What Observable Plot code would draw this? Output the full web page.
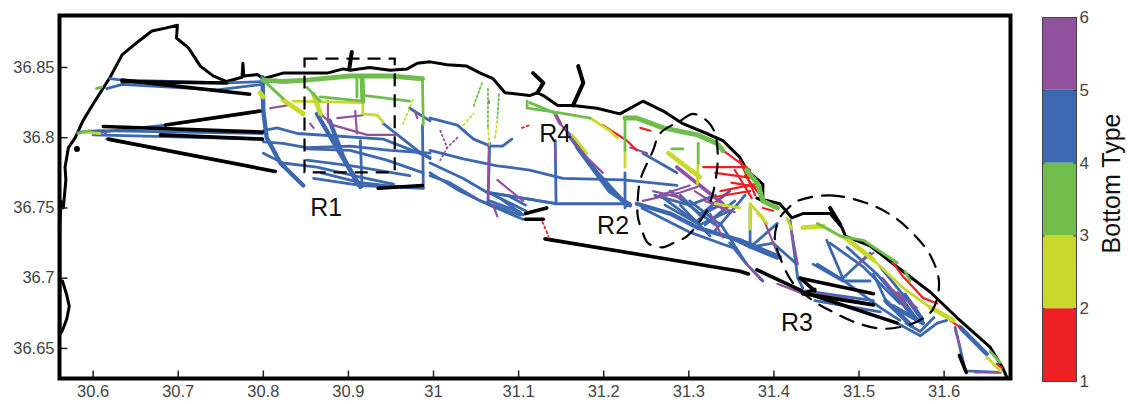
<!DOCTYPE html>
<html><head><meta charset="utf-8">
<script src="https://cdn.jsdelivr.net/npm/d3@7"></script>
<script src="https://cdn.jsdelivr.net/npm/@observablehq/plot@0.6"></script>
<style>
html,body{margin:0;padding:0;background:#fff;width:1128px;height:404px;overflow:hidden}
#wrap{position:relative;width:1128px;height:404px}
#wrap svg{position:absolute;top:0;background:transparent}
</style></head><body><div id="wrap"></div>
<script>
const xTicks=[30.6,30.7,30.8,30.9,31,31.1,31.2,31.3,31.4,31.5,31.6];
const yTicks=[36.65,36.7,36.75,36.8,36.85];
const xDomain=[30.5605,31.678];
const yDomain=[36.6286,36.887];
const bottomTypes=[1,2,3,4,5,6];
const typeColors=["#ee2024","#c8d92b","#6fbe4b","#3b68b0","#92519f"];

const coast=[[30.561,36.690],[30.561,36.698],[30.564,36.698],[30.569,36.688],[30.572,36.680],[30.569,36.671],[30.564,36.663],[30.561,36.660],[30.561,36.700],[30.561,36.735],[30.562,36.755],[30.565,36.750],[30.568,36.770],[30.567,36.779],[30.571,36.793],[30.579,36.800],[30.588,36.812],[30.600,36.824],[30.620,36.843],[30.634,36.859],[30.652,36.868],[30.669,36.876],[30.685,36.878],[30.699,36.880],[30.698,36.871],[30.712,36.864],[30.726,36.851],[30.741,36.844],[30.757,36.840],[30.775,36.843],[30.776,36.853],[30.777,36.844],[30.793,36.845],[30.800,36.842],[30.823,36.846],[30.851,36.846],[30.875,36.846],[30.894,36.849],[30.902,36.848],[30.925,36.850],[30.949,36.848],[30.969,36.849],[30.981,36.853],[30.996,36.854],[31.016,36.852],[31.039,36.851],[31.055,36.846],[31.070,36.842],[31.084,36.832],[31.113,36.830],[31.122,36.832],[31.129,36.830],[31.146,36.823],[31.164,36.823],[31.192,36.821],[31.219,36.817],[31.246,36.826],[31.270,36.819],[31.293,36.810],[31.321,36.803],[31.340,36.798],[31.360,36.786],[31.368,36.777],[31.387,36.767],[31.387,36.755],[31.380,36.757],[31.407,36.753],[31.421,36.743],[31.434,36.746],[31.454,36.746],[31.466,36.746],[31.480,36.736],[31.484,36.730],[31.513,36.723],[31.545,36.708],[31.584,36.690],[31.615,36.672],[31.654,36.651],[31.669,36.636],[31.674,36.629]];
const coastHooks=[[[31.122,36.832],[31.129,36.839],[31.117,36.846]],[[31.164,36.823],[31.176,36.839],[31.170,36.851]],[[30.904,36.861],[30.901,36.849]],[[31.466,36.750],[31.478,36.738]]];
const spot=[[30.581,36.792]];
const transitLines=[
[[30.634,36.841],[30.784,36.831]],[[30.634,36.840],[30.757,36.839]],[[30.796,36.819],[30.685,36.809]],[[30.612,36.808],[30.799,36.804]],[[30.679,36.802],[30.799,36.799]],[[30.618,36.799],[30.814,36.776]],[[30.935,36.764],[30.987,36.766]],[[31.108,36.746],[31.133,36.750]],[[31.108,36.742],[31.129,36.742]],[[31.131,36.728],[31.360,36.705],[31.370,36.703]],[[31.380,36.706],[31.433,36.691]],[[31.431,36.700],[31.517,36.689]],[[31.434,36.689],[31.517,36.681]],[[31.445,36.688],[31.545,36.668]],[[31.431,36.700],[31.448,36.691]],[[31.434,36.689],[31.448,36.692]],[[31.618,36.645],[31.626,36.633]]];

const blueThin=[
[[30.620,36.842],[30.634,36.841],[30.757,36.839],[30.799,36.840]],
[[30.616,36.835],[30.634,36.838],[30.746,36.834],[30.799,36.838]],
[[30.582,36.804],[30.608,36.805],[30.799,36.803]],
[[30.600,36.802],[30.799,36.799]],
[[30.608,36.804],[30.685,36.809],[30.799,36.819]],
[[30.616,36.799],[30.814,36.776]],
[[30.800,36.805],[30.816,36.807],[30.840,36.803],[30.941,36.799],[30.996,36.786]],
[[30.800,36.797],[30.823,36.796],[30.851,36.793],[30.902,36.794],[30.949,36.791],[30.996,36.789]],
[[30.851,36.792],[30.902,36.791],[30.945,36.784],[30.988,36.775]],
[[30.800,36.789],[30.823,36.782],[30.863,36.779],[30.914,36.772],[30.953,36.767]],
[[30.859,36.771],[30.914,36.766],[30.988,36.764]],
[[30.868,36.775],[30.914,36.768],[30.960,36.765]],
[[30.914,36.798],[30.916,36.765]],
[[30.941,36.810],[30.981,36.791],[30.996,36.785]],
[[30.987,36.809],[30.988,36.764]],
[[30.972,36.821],[30.996,36.812]],
[[30.851,36.784],[30.904,36.780],[30.972,36.773]],
[[30.996,36.814],[31.028,36.809],[31.047,36.799],[31.067,36.794],[31.081,36.794],[31.092,36.799]],
[[30.996,36.791],[31.035,36.785],[31.075,36.780],[31.113,36.777],[31.152,36.771],[31.223,36.770],[31.286,36.766]],
[[30.996,36.782],[31.035,36.771],[31.063,36.761],[31.105,36.757],[31.145,36.753],[31.231,36.753]],
[[30.996,36.775],[31.031,36.762],[31.066,36.752],[31.105,36.742]],
[[30.996,36.773],[31.019,36.768],[31.055,36.755],[31.102,36.745]],
[[31.066,36.796],[31.064,36.753]],
[[31.143,36.798],[31.144,36.753]],
[[31.225,36.775],[31.225,36.750]],
[[31.246,36.789],[31.286,36.775]],
[[31.310,36.741],[31.328,36.750]],
[[31.290,36.759],[31.313,36.745],[31.337,36.752]],
[[31.272,36.752],[31.313,36.738],[31.348,36.748]],
[[31.260,36.759],[31.301,36.752],[31.331,36.759]],
[[31.266,36.759],[31.313,36.738]],[[31.278,36.762],[31.331,36.738]],[[31.290,36.752],[31.325,36.730]],[[31.301,36.755],[31.337,36.738]],
[[31.313,36.745],[31.348,36.762]],[[31.319,36.738],[31.354,36.755]],[[31.331,36.734],[31.366,36.759]],
[[31.245,36.750],[31.300,36.733],[31.350,36.722]],
[[31.337,36.739],[31.368,36.710]],
[[31.372,36.750],[31.372,36.722],[31.404,36.714]],
[[31.372,36.722],[31.404,36.739]],
[[31.066,36.755],[31.102,36.747]],[[31.068,36.760],[31.108,36.748]],[[31.078,36.757],[31.105,36.745]],[[31.090,36.758],[31.108,36.752]],[[31.066,36.761],[31.143,36.753]],
[[31.348,36.729],[31.372,36.722],[31.399,36.725],[31.427,36.710]],
[[31.348,36.725],[31.368,36.710],[31.387,36.698]],
[[31.419,36.741],[31.428,36.700],[31.434,36.693]],
[[31.446,36.710],[31.481,36.698],[31.513,36.698]],
[[31.462,36.727],[31.481,36.700],[31.513,36.718]],
[[31.466,36.725],[31.505,36.708],[31.548,36.682]],
[[31.451,36.710],[31.478,36.700],[31.525,36.679],[31.548,36.670]],
[[31.517,36.703],[31.533,36.682],[31.552,36.675]],
[[31.525,36.708],[31.560,36.682],[31.575,36.670]],
[[31.486,36.722],[31.521,36.703],[31.560,36.675]],
[[31.545,36.668],[31.572,36.659],[31.592,36.668],[31.603,36.670]],
[[31.555,36.668],[31.572,36.662],[31.588,36.672]],
[[31.437,36.691],[31.517,36.684]],
[[31.448,36.684],[31.525,36.676]],
[[31.613,36.665],[31.625,36.634],[31.666,36.633]]];
const blueThick=[
[[30.799,36.843],[30.800,36.819],[30.804,36.800],[30.820,36.782],[30.847,36.766]],
[[30.863,36.817],[30.890,36.789],[30.914,36.765]],
[[30.878,36.812],[30.894,36.786],[30.911,36.767]],
[[31.158,36.803],[31.192,36.775],[31.227,36.752]],
[[31.169,36.793],[31.207,36.762],[31.231,36.752]],
[[31.239,36.753],[31.278,36.746],[31.310,36.736],[31.360,36.727],[31.407,36.715]],
[[31.545,36.689],[31.568,36.670]],[[31.531,36.684],[31.562,36.666]],[[31.554,36.688],[31.574,36.671]],[[31.540,36.680],[31.575,36.668]],
[[31.619,36.665],[31.650,36.646]]];
const purpleThin=[
[[30.808,36.821],[30.828,36.823]],
[[30.867,36.817],[30.882,36.809],[30.922,36.802],[30.957,36.802]],
[[30.876,36.826],[30.876,36.811]],[[30.855,36.810],[30.859,36.807]],[[30.908,36.819],[30.910,36.803]],[[30.887,36.814],[30.917,36.816]],[[30.978,36.819],[30.981,36.814]],
[[31.065,36.794],[31.064,36.757]],[[31.075,36.770],[31.105,36.755]],[[31.070,36.752],[31.075,36.744]],
[[31.149,36.810],[31.180,36.786],[31.199,36.775]],
[[31.143,36.793],[31.143,36.782]],[[31.231,36.793],[31.251,36.789]],
[[31.246,36.755],[31.290,36.761],[31.310,36.765]],[[31.258,36.762],[31.293,36.757]],
[[31.266,36.759],[31.301,36.766]],[[31.307,36.762],[31.343,36.748]],[[31.319,36.755],[31.354,36.747]],
[[31.325,36.746],[31.340,36.729]],[[31.387,36.743],[31.404,36.718]],[[31.419,36.739],[31.428,36.710]],
[[31.368,36.710],[31.386,36.698]],[[31.404,36.696],[31.434,36.689]],[[31.451,36.689],[31.513,36.682]],
[[31.517,36.718],[31.498,36.710]],[[31.536,36.693],[31.568,36.679]],[[31.528,36.700],[31.555,36.680]],[[31.613,36.663],[31.619,36.651]],[[31.636,36.633],[31.666,36.633]]];
const purpleThick=[[[31.286,36.779],[31.313,36.766],[31.340,36.753]],[[31.143,36.817],[31.149,36.810]]];
const purpleDotted=[[[30.608,36.803],[30.618,36.803]],[[31.008,36.805],[31.016,36.793],[31.008,36.784]],[[31.028,36.800],[31.016,36.793]]];
const redThin=[
[[31.199,36.809],[31.227,36.798],[31.239,36.791]],[[31.243,36.807],[31.255,36.805]],
[[31.340,36.791],[31.372,36.777]],[[31.317,36.779],[31.368,36.779]],[[31.331,36.775],[31.378,36.771]],
[[31.337,36.762],[31.378,36.767]],[[31.331,36.758],[31.372,36.762]],[[31.360,36.784],[31.378,36.759]],
[[31.366,36.773],[31.384,36.759]],[[31.354,36.777],[31.374,36.757]],[[31.350,36.768],[31.380,36.765]],
[[31.540,36.711],[31.552,36.701],[31.575,36.686],[31.592,36.682]],
[[31.607,36.670],[31.619,36.665]],[[31.662,36.639],[31.668,36.636]],[[31.387,36.750],[31.399,36.748]]];
const redDotted=[[[31.104,36.807],[31.113,36.809]],[[31.065,36.826],[31.065,36.823]],[[31.128,36.740],[31.135,36.730]]];
const yellowThin=[
[[30.835,36.826],[30.917,36.825]],
[[30.917,36.826],[30.917,36.817],[30.934,36.816],[30.941,36.811]],
[[30.588,36.804],[30.608,36.803]],
[[31.184,36.814],[31.207,36.805],[31.216,36.800]],
[[31.163,36.802],[31.180,36.789]],[[31.311,36.782],[31.310,36.767]],[[31.225,36.791],[31.225,36.779]],
[[31.372,36.753],[31.387,36.743]],[[31.331,36.753],[31.360,36.750]],[[31.372,36.753],[31.372,36.735]],
[[31.434,36.736],[31.458,36.737],[31.481,36.729],[31.517,36.713],[31.552,36.693],[31.584,36.679]],
[[31.650,36.644],[31.666,36.634]],[[31.381,36.746],[31.392,36.739]],[[31.415,36.743],[31.421,36.735]]];
const yellowThick=[
[[30.823,36.827],[30.847,36.817]],[[30.796,36.832],[30.800,36.829]],[[30.859,36.831],[30.867,36.817]],
[[31.276,36.789],[31.313,36.772]],[[31.584,36.679],[31.611,36.670]],[[31.488,36.727],[31.517,36.713]],[[31.434,36.736],[31.458,36.737]]];
const yellowDotted=[[[30.976,36.827],[30.964,36.810]],[[31.035,36.809],[31.047,36.817]],[[31.064,36.807],[31.066,36.793]],[[31.075,36.812],[31.072,36.798]]];
const greenThin=[
[[30.851,36.836],[30.867,36.826]],[[30.800,36.841],[30.823,36.828]],[[30.867,36.829],[30.917,36.826]],[[30.920,36.830],[30.972,36.826]],[[30.910,36.843],[30.910,36.829]],[[30.987,36.842],[30.988,36.809]],
[[30.604,36.835],[30.610,36.836]],[[30.582,36.803],[30.596,36.805]],
[[31.110,36.826],[31.110,36.821],[31.145,36.818],[31.184,36.814]],[[31.113,36.825],[31.145,36.817]],
[[31.225,36.812],[31.225,36.791]],[[31.311,36.796],[31.311,36.782]],[[31.280,36.792],[31.293,36.792]],
[[31.451,36.739],[31.478,36.730],[31.505,36.727],[31.545,36.711]],[[31.554,36.705],[31.560,36.698]],[[31.654,36.648],[31.666,36.640]]];
const greenThick=[
[[30.800,36.841],[30.823,36.840],[30.851,36.841],[30.902,36.844],[30.949,36.844],[30.987,36.842]],
[[30.916,36.843],[30.917,36.826]],
[[31.225,36.814],[31.239,36.814],[31.270,36.807],[31.310,36.802],[31.333,36.796],[31.340,36.791]],
[[31.368,36.777],[31.381,36.767],[31.387,36.755],[31.404,36.750]]];
const greenDotted=[[[31.057,36.839],[31.047,36.822]],[[31.064,36.835],[31.064,36.807]],[[31.077,36.831],[31.075,36.814]]];

const boxR1={lon:[30.849,30.955],lat:[36.775,36.856]};
const outlineR2=[[31.323,36.811],[31.305,36.817],[31.290,36.812],[31.266,36.803],[31.258,36.791],[31.243,36.770],[31.240,36.756],[31.240,36.744],[31.245,36.734],[31.252,36.725],[31.269,36.722],[31.282,36.725],[31.298,36.730],[31.310,36.738],[31.321,36.748],[31.329,36.762],[31.334,36.784],[31.333,36.796],[31.331,36.803]];
const outlineR3=[[31.428,36.755],[31.466,36.759],[31.511,36.753],[31.540,36.744],[31.563,36.732],[31.584,36.716],[31.594,36.697],[31.587,36.678],[31.574,36.671],[31.560,36.667],[31.528,36.664],[31.498,36.668],[31.466,36.677],[31.446,36.684],[31.423,36.696],[31.407,36.715],[31.401,36.729],[31.407,36.743],[31.417,36.750]];
const regionLabels=["R1","R2","R3","R4"];
const regionLon=[30.874,31.211,31.427,31.143];
const regionLat=[36.750,36.737,36.668,36.803];

const rows=t=>t.flatMap((p,i)=>p.map(([x,y])=>({x,y,id:i})));
const track=(t,color,w,dash)=>Plot.line(rows(t),{x:"x",y:"y",z:"id",stroke:color,strokeWidth:w,strokeDasharray:dash,strokeLinecap:"round",strokeLinejoin:"round"});
const [RED,YEL,GRN,BLU,PUR]=typeColors;
const FONT="'Liberation Sans',Arial,sans-serif";
const tickLenX=0.0057, tickLenY=0.0094;

const chart=Plot.plot({
  width:1128,height:404,marginLeft:59,marginRight:118,marginTop:15,marginBottom:26,
  style:{fontFamily:FONT,background:"transparent",overflow:"visible"},
  x:{domain:xDomain},y:{domain:yDomain},
  marks:[
    Plot.line(coast,{x:d=>d[0],y:d=>d[1],stroke:"#000",strokeWidth:3,strokeLinejoin:"round"}),
    track(blueThin,BLU,2.8),track(blueThick,BLU,4.4),
    track(purpleThin,PUR,2.2),track(purpleThick,PUR,3.6),track(purpleDotted,PUR,1.8,"1.5 3"),
    track(redThin,RED,2.2),track(redDotted,RED,1.8,"2 3"),
    track(yellowThin,YEL,2.8),track(yellowThick,YEL,4.8),track(yellowDotted,YEL,1.8,"2 3"),
    track(greenThin,GRN,2.8),track(greenThick,GRN,5),track(greenDotted,GRN,1.8,"2 2.5"),
    track(coastHooks,"#000",4),
    track(transitLines,"#000",3.6),
    Plot.dot(spot,{x:d=>d[0],y:d=>d[1],r:3,fill:"#000"}),
    Plot.rect([boxR1],{x1:d=>d.lon[0],x2:d=>d.lon[1],y1:d=>d.lat[0],y2:d=>d.lat[1],stroke:"#000",strokeWidth:2.2,strokeDasharray:"13 8",fill:"none"}),
    Plot.line(outlineR2,{x:d=>d[0],y:d=>d[1],curve:"catmull-rom-closed",stroke:"#000",strokeWidth:2.2,strokeDasharray:"14 10"}),
    Plot.line(outlineR3,{x:d=>d[0],y:d=>d[1],curve:"catmull-rom-closed",stroke:"#000",strokeWidth:2.2,strokeDasharray:"14 10"}),
    Plot.text(regionLabels,{x:(d,i)=>regionLon[i],y:(d,i)=>regionLat[i],text:d=>d,fontSize:25,fill:"#111"}),
    Plot.link(xTicks,{x1:d=>d,x2:d=>d,y1:()=>yDomain[0],y2:()=>yDomain[0]+tickLenX,stroke:"#222",strokeWidth:1.5}),
    Plot.link(yTicks,{y1:d=>d,y2:d=>d,x1:()=>xDomain[0],x2:()=>xDomain[0]+tickLenY,stroke:"#222",strokeWidth:1.5}),
    Plot.axisX({ticks:xTicks,tickSize:0,tickPadding:7,tickFormat:d=>String(d),fill:"#444",label:null,fontSize:16.5}),
    Plot.axisY({ticks:yTicks,tickSize:0,tickPadding:5,tickFormat:d=>String(d),fill:"#444",label:null,fontSize:16.5}),
    Plot.frame({stroke:"#000",strokeWidth:4})
  ]
});
chart.style.left="0";
document.getElementById("wrap").append(chart);

const bands=typeColors.map((c,i)=>({lo:bottomTypes[i],hi:bottomTypes[i+1],c}));
const bar=Plot.plot({
  width:108,height:404,marginLeft:22,marginRight:52,marginTop:17,marginBottom:23,
  style:{fontFamily:FONT,background:"transparent",overflow:"visible"},
  x:{domain:[0,1],axis:null},y:{domain:[1,6]},
  marks:[
    Plot.rect(bands,{x1:0,x2:1,y1:"lo",y2:"hi",fill:d=>d.c}),
    Plot.ruleY(bottomTypes,{y:d=>d,x1:0,x2:0.08,stroke:"#333"}),
    Plot.ruleY(bottomTypes,{y:d=>d,x1:0.92,x2:1,stroke:"#333"}),
    Plot.axisY({anchor:"right",ticks:bottomTypes,tickSize:0,tickPadding:3,tickFormat:d=>String(d),fill:"#444",label:null,fontSize:17}),
    Plot.frame({stroke:"#444",strokeWidth:1}),
    Plot.text(["Bottom Type"],{frameAnchor:"right",textAnchor:"middle",rotate:-90,dx:35,dy:-16,fontSize:25,fill:"#111"})
  ]
});
bar.style.left="1020px";
document.getElementById("wrap").append(bar);
</script></body></html>
